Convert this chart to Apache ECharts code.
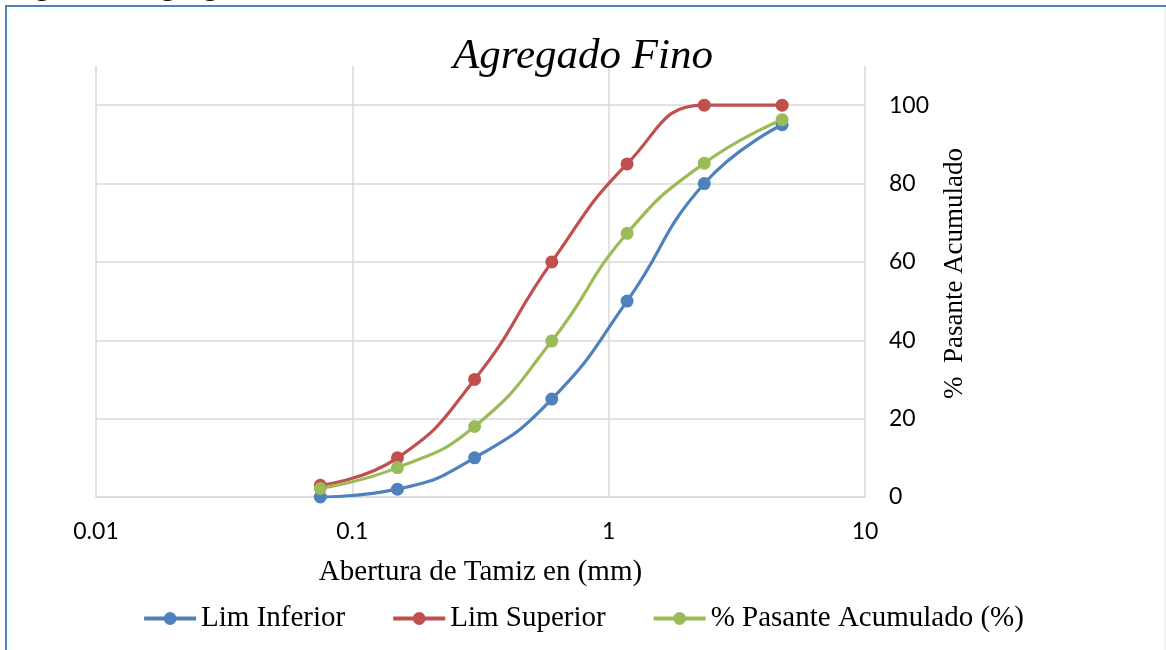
<!DOCTYPE html>
<html>
<head>
<meta charset="utf-8">
<script src="https://cdn.jsdelivr.net/npm/echarts@6/dist/echarts.min.js"></script>
<style>
  html, body { margin: 0; padding: 0; background: #ffffff; }
  #chart { width: 1166px; height: 650px; }
</style>
</head>
<body>
<div id="chart"></div>
<script>
// sieve openings (mm)
const aberturas = [0.075, 0.15, 0.3, 0.6, 1.18, 2.36, 4.75];
const limInferior = [0, 2, 10, 25, 50, 80, 95];
const limSuperior = [3, 10, 30, 60, 85, 100, 100];
const pasante = [2.2, 7.5, 18, 39.8, 67.3, 85.2, 96.3];
const xTicks = [0.01, 0.1, 1, 10];
const yTicks = [0, 20, 40, 60, 80, 100];

const serif = '"Liberation Serif", "Times New Roman", serif';
const sans = 'Lato, "Liberation Sans", sans-serif';

function pairs(ys) {
  return aberturas.map((x, i) => [x, ys[i]]);
}

function lineSeries(name, color, ys) {
  return {
    name,
    type: 'line',
    data: pairs(ys),
    smooth: 0.5,
    smoothConstraint: false,
    symbol: 'circle',
    symbolSize: 13,
    lineStyle: { color, width: 3.2 },
    itemStyle: { color },
    z: 3
  };
}

const chart = echarts.init(document.getElementById('chart'));
chart.setOption({
  animation: false,
  color: ['#4F81BD', '#C0504D', '#9BBB59'],
  title: {
    text: 'Agregado Fino',
    left: 'center',
    top: 30,
    textStyle: { fontFamily: serif, fontStyle: 'italic', fontWeight: 'normal', fontSize: 43, color: '#000000' }
  },
  graphic: [
    // caption above the frame, cut off by the page top
    {
      type: 'text',
      style: {
        x: 7, y: 1,
        text: 'Figura 4: Agregado Fino \u2013 Curva Granulom\u00e9trica',
        font: 'bold 31px "Liberation Serif", serif',
        verticalAlign: 'bottom',
        fill: '#000000'
      }
    },
    { type: 'rect', shape: { x: 6, y: 6, width: 1200, height: 700 }, style: { fill: 'none', stroke: '#4F81BD', lineWidth: 2 }, z: 10 },
    { type: 'line', shape: { x1: 1165, y1: 7, x2: 1165, y2: 650 }, style: { stroke: '#e4e4e4', lineWidth: 1 }, z: 10 }
  ],
  grid: { left: 96, right: 301, top: 66, bottom: 153 },
  legend: {
    bottom: 12,
    left: 'center',
    itemWidth: 52,
    itemHeight: 16,
    itemGap: 46,
    lineStyle: { width: 4 },
    textStyle: { fontFamily: serif, fontSize: 29, color: '#000000' },
    data: ['Lim Inferior', 'Lim Superior', '% Pasante Acumulado (%)']
  },
  xAxis: {
    type: 'log',
    logBase: 10,
    min: xTicks[0],
    max: xTicks[xTicks.length - 1],
    name: 'Abertura de Tamiz en (mm)',
    nameLocation: 'middle',
    nameGap: 61,
    nameTextStyle: { fontFamily: serif, fontSize: 29, color: '#000000' },
    axisLine: { show: true, lineStyle: { color: '#d9d9d9', width: 1.5 } },
    axisTick: { show: false },
    axisLabel: { margin: 23, fontFamily: sans, fontSize: 23, color: '#000000', formatter: (v) => String(v) },
    splitLine: { show: true, showMinLine: true, showMaxLine: true, lineStyle: { color: '#d9d9d9', width: 1.5 } },
    minorTick: { show: false }
  },
  yAxis: {
    type: 'value',
    position: 'right',
    min: 0,
    max: 110,
    interval: 20,
    name: '%  Pasante Acumulado',
    nameLocation: 'middle',
    nameRotate: 90,
    nameGap: 76,
    nameTextStyle: { fontFamily: serif, fontSize: 27, color: '#000000', padding: [0, 0, 0, 16] },
    axisLine: { show: false },
    axisTick: { show: false },
    axisLabel: {
      margin: 24,
      align: 'left',
      showMaxLabel: false,
      fontFamily: sans,
      fontSize: 23,
      color: '#000000',
      formatter: (v) => (yTicks.includes(v) ? String(v) : '')
    },
    splitLine: { show: true, showMaxLine: false, lineStyle: { color: '#d9d9d9', width: 1.5 } }
  },
  series: [
    lineSeries('Lim Inferior', '#4F81BD', limInferior),
    lineSeries('Lim Superior', '#C0504D', limSuperior),
    lineSeries('% Pasante Acumulado (%)', '#9BBB59', pasante)
  ]
});
</script>
</body>
</html>
